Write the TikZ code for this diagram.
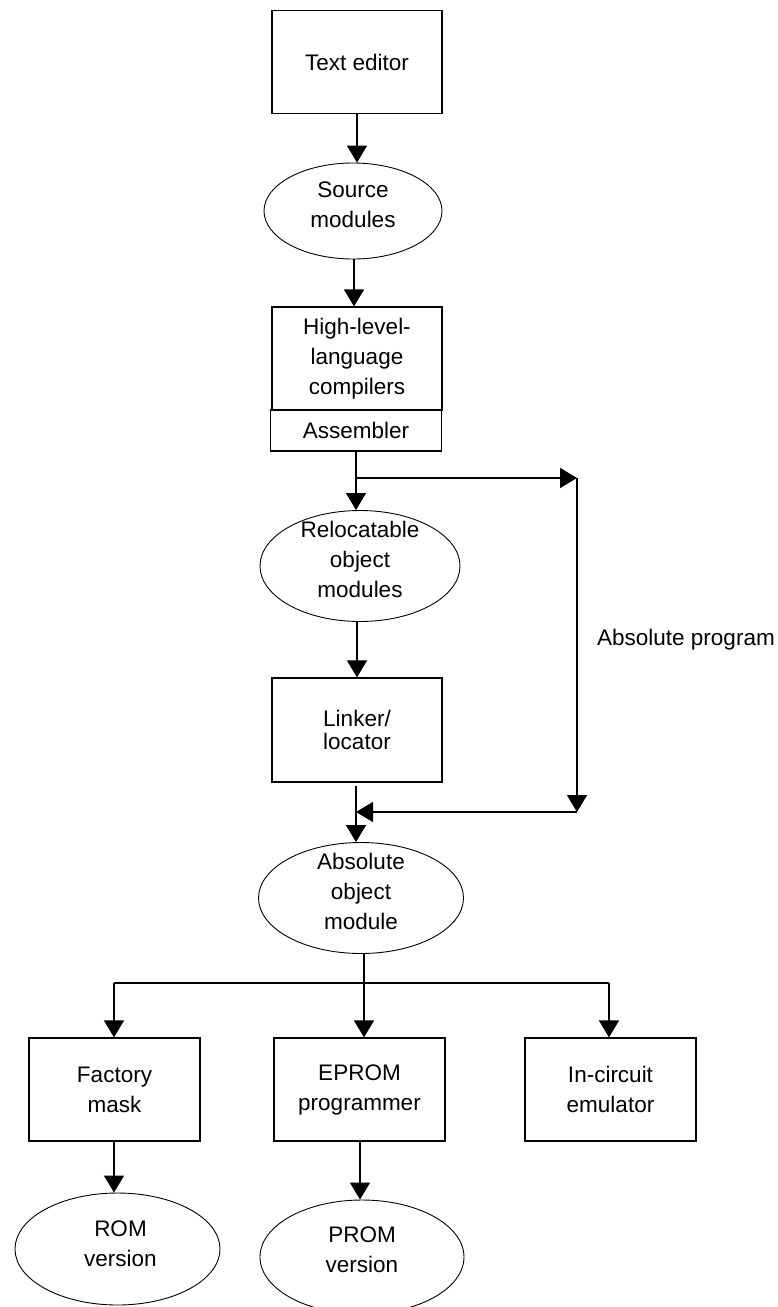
\documentclass[tikz,border=0pt]{standalone}
\usepackage{fontspec}
\setmainfont{Liberation Sans}
\usetikzlibrary{arrows.meta,shapes.geometric}
\begin{document}
\begin{tikzpicture}[x=1pt,y=-1pt,
  every node/.style={font=\fontsize{22.5}{30}\selectfont, align=center, inner sep=0pt},
  procbox/.style={draw, line width=1.2pt, rectangle, minimum width=170pt, minimum height=103pt},
  databubble/.style={draw, line width=0.9pt, ellipse, minimum width=204pt, minimum height=111pt},
  flow/.style={line width=1.4pt, -{Triangle[length=17pt,width=20pt]}},
  wire/.style={line width=1.4pt}]
\clip (0,0) rectangle (778,1307);
\fill[white] (0,0) rectangle (778,1307);

% development chain
\node[procbox] (editor) at (357,62) {Text editor};
\node[databubble, minimum width=178pt, minimum height=96pt,
      label={[yshift=6pt]center:{Source\\modules}}] (source) at (353,211) {};
\node[procbox] (compiler) at (357,358.5) {High-level-\\language\\compilers};
\node[procbox, minimum width=171pt, minimum height=41pt] (assembler) at (356,430.5) {Assembler};
\node[databubble, minimum width=200pt, minimum height=111pt,
      label={[yshift=7pt]center:{Relocatable\\object\\modules}}] (reloc) at (360,566) {};
\node[procbox, minimum height=104pt] (linker) at (357,730) {Linker/\\[-7pt]locator};
\node[databubble, minimum width=205pt, minimum height=111pt,
      label={[yshift=7pt]center:{Absolute\\object\\module}}] (absmod) at (361,898) {};

% targets
\node[procbox, minimum width=171pt] (factory) at (114.5,1089.5) {Factory\\mask};
\node[procbox, minimum width=171pt] (eprom) at (359.5,1089.5) {EPROM\\programmer};
\node[procbox, minimum width=171pt] (ice) at (610.5,1089.5) {In-circuit\\emulator};
\node[databubble, minimum width=205pt, minimum height=112pt,
      label={[yshift=5pt,xshift=3pt]center:{ROM\\version}}] (rom) at (117.5,1249) {};
\node[databubble, minimum width=204pt, minimum height=114pt,
      label={[yshift=7pt]center:{PROM\\version}}] (prom) at (362,1257) {};

\node[anchor=west] (abslabel) at (597,640) {Absolute program};

% bypass and bus points
\coordinate (split) at (356,478);
\coordinate (ne) at (577,478);
\coordinate (se) at (577,812);
\coordinate (merge) at (356,812);
\coordinate (busL) at (114,983);
\coordinate (busM) at (364,983);
\coordinate (busR) at (609,983);
\coordinate (promdrop) at (360,1141);

% connectors
\draw[flow] (editor.south) -- (editor.south |- source.north);
\draw[flow] (source.south -| 354,0) -- (354,0 |- compiler.north);
\draw[wire] (assembler.south -| split) -- (split);
\draw[flow] (split) -- (split |- reloc.north);
\draw[flow] (split) -- (ne);
\draw[flow] (ne) -- (se);
\draw[flow] (se) -- (merge);
\draw[flow] (reloc.south -| linker.north) -- (linker.north);
\draw[flow] ([yshift=-3pt]linker.south -| merge) -- (merge |- absmod.north);
\draw[wire] (busM |- absmod.south) -- (busM);
\draw[wire] (busL) -- (busR);
\draw[flow] (busL) -- (busL |- factory.north);
\draw[flow] (busM) -- (busM |- eprom.north);
\draw[flow] (busR) -- (busR |- ice.north);
\draw[flow] (busL |- factory.south) -- (busL |- rom.north);
\draw[flow] (eprom.south -| promdrop) -- (promdrop |- prom.north);
\end{tikzpicture}
\end{document}
